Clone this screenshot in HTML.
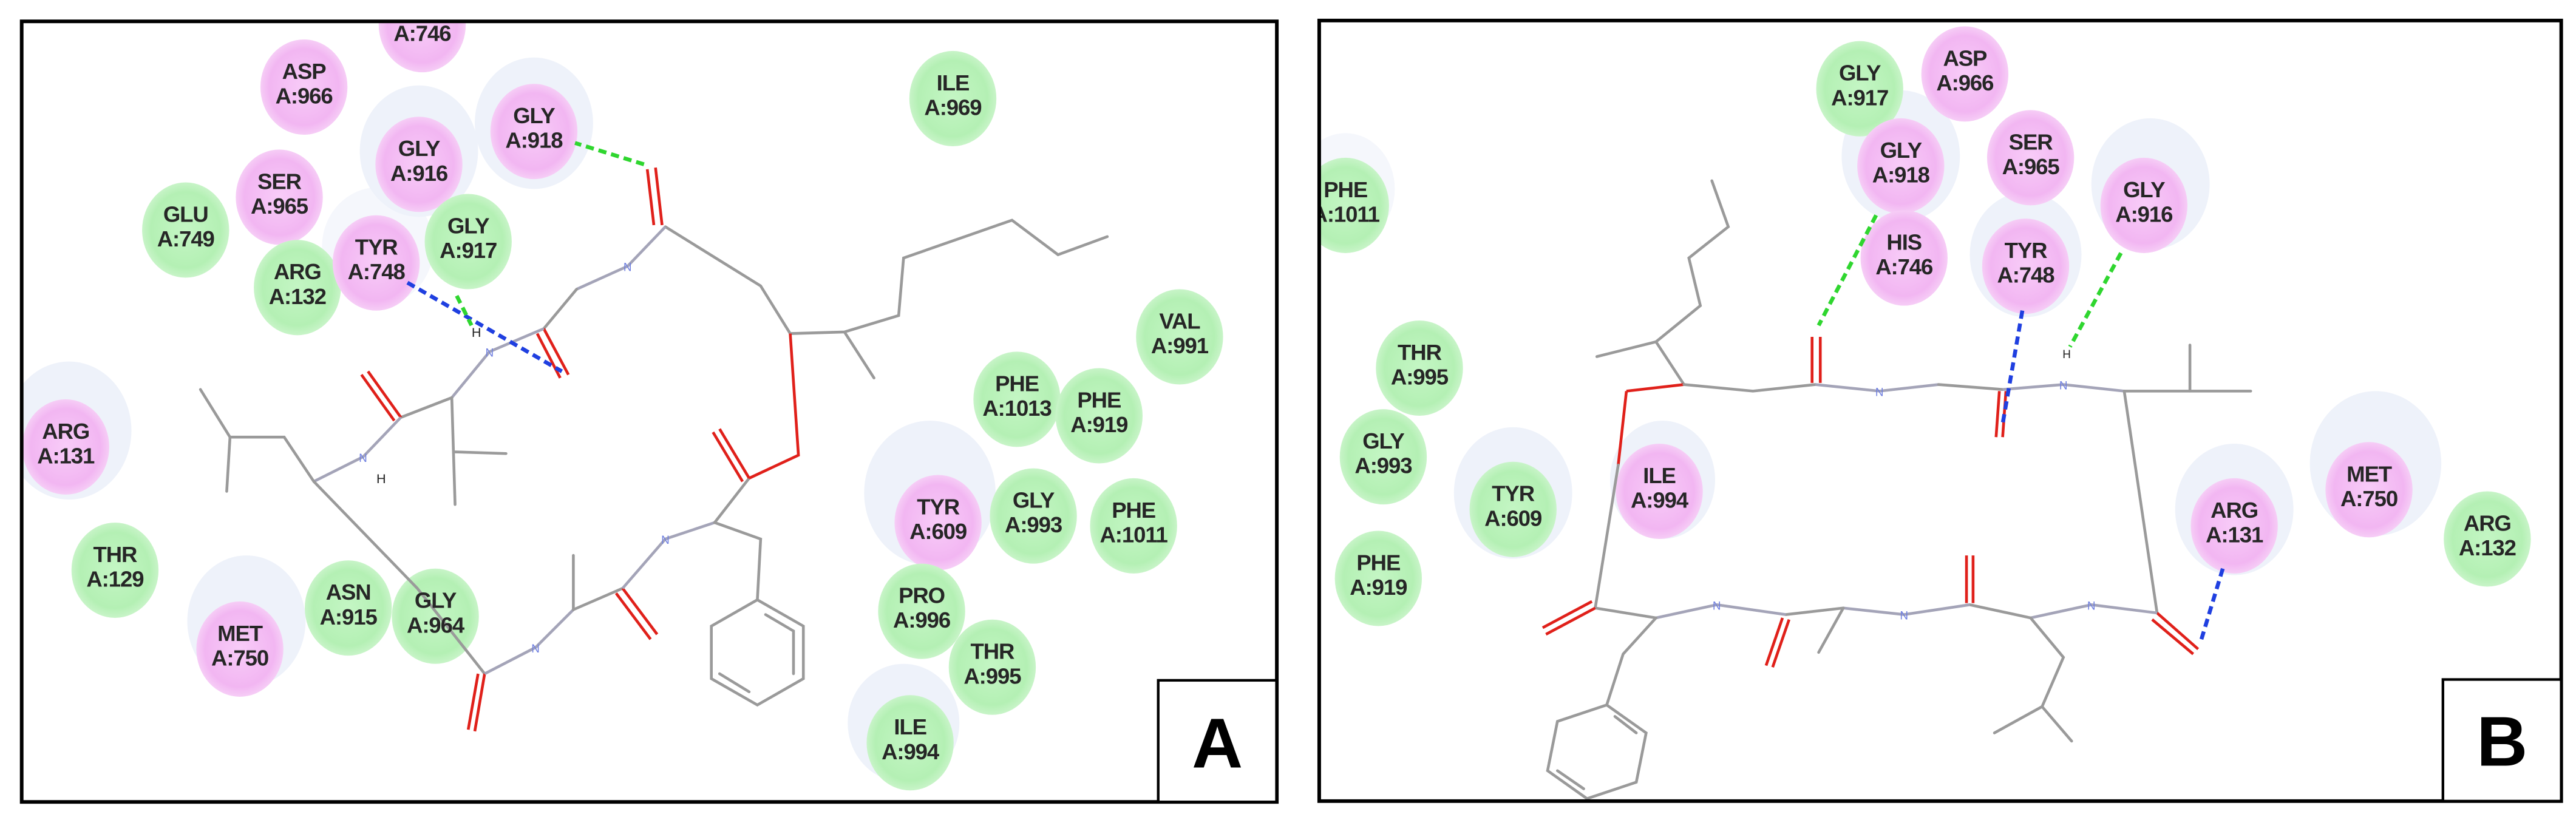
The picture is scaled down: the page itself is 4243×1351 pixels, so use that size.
<!DOCTYPE html>
<html><head><meta charset="utf-8"><style>
html,body{margin:0;padding:0;background:#fff;}
svg{display:block;}
text{font-family:"Liberation Sans",sans-serif;}
.lb{font-size:13.5px;font-weight:bold;fill:#262626;text-anchor:middle;letter-spacing:-0.4px;}
.b{stroke:#9a9a9a;stroke-width:1.7;fill:none;stroke-linecap:round;}
.r{stroke:#e0201a;stroke-width:1.7;fill:none;}
.n{stroke:#a4a4b8;stroke-width:1.7;fill:none;}
.nt{font-size:7px;fill:#7080e0;text-anchor:middle;}
.hg{stroke:#2fd62f;stroke-width:2.4;stroke-dasharray:5,3;fill:none;}
.hb{stroke:#1f3fe0;stroke-width:2.4;stroke-dasharray:5,3;fill:none;}
</style></head><body>
<svg width="4243" height="1351" viewBox="0 0 1568 499" preserveAspectRatio="none" xmlns="http://www.w3.org/2000/svg">
<defs>
<radialGradient id="g"><stop offset="0" stop-color="#c4f6c4"/><stop offset="0.8" stop-color="#b4f0b4"/><stop offset="1" stop-color="#c8f4c8"/></radialGradient>
<radialGradient id="p"><stop offset="0" stop-color="#f8ccf8"/><stop offset="0.8" stop-color="#f2b6f2"/><stop offset="1" stop-color="#f6cdf6"/></radialGradient>
<clipPath id="ca"><rect x="13" y="13" width="764" height="475"/></clipPath>
<clipPath id="cb"><rect x="803" y="13" width="756" height="475"/></clipPath>
</defs>
<rect width="1568" height="499" fill="#fff"/>

<!-- PANEL A -->
<g clip-path="url(#ca)">
<g fill="#eef2fa">
<ellipse cx="325" cy="75" rx="36" ry="40"/>
<ellipse cx="255" cy="92" rx="36" ry="40"/>
<ellipse cx="42" cy="262" rx="38" ry="42"/>
<ellipse cx="566" cy="300" rx="40" ry="44"/>
<ellipse cx="150" cy="378" rx="36" ry="40"/>
<ellipse cx="550" cy="440" rx="34" ry="36"/>
<ellipse cx="230" cy="150" rx="34" ry="36" opacity="0.6"/>
</g>
<g>
<ellipse cx="257" cy="15" rx="26.5" ry="29" fill="url(#p)"/>
<ellipse cx="185" cy="53" rx="26.5" ry="29" fill="url(#p)"/>
<ellipse cx="325" cy="80" rx="26.5" ry="29" fill="url(#p)"/>
<ellipse cx="255" cy="100" rx="26.5" ry="29" fill="url(#p)"/>
<ellipse cx="170" cy="120" rx="26.5" ry="29" fill="url(#p)"/>
<ellipse cx="113" cy="140" rx="26.5" ry="29" fill="url(#g)"/>
<ellipse cx="285" cy="147" rx="26.5" ry="29" fill="url(#g)"/>
<ellipse cx="181" cy="175" rx="26.5" ry="29" fill="url(#g)"/>
<ellipse cx="229" cy="160" rx="26.5" ry="29" fill="url(#p)"/>
<ellipse cx="580" cy="60" rx="26.5" ry="29" fill="url(#g)"/>
<ellipse cx="718" cy="205" rx="26.5" ry="29" fill="url(#g)"/>
<ellipse cx="619" cy="243" rx="26.5" ry="29" fill="url(#g)"/>
<ellipse cx="669" cy="253" rx="26.5" ry="29" fill="url(#g)"/>
<ellipse cx="40" cy="272" rx="26.5" ry="29" fill="url(#p)"/>
<ellipse cx="571" cy="318" rx="26.5" ry="29" fill="url(#p)"/>
<ellipse cx="629" cy="314" rx="26.5" ry="29" fill="url(#g)"/>
<ellipse cx="690" cy="320" rx="26.5" ry="29" fill="url(#g)"/>
<ellipse cx="70" cy="347" rx="26.5" ry="29" fill="url(#g)"/>
<ellipse cx="561" cy="372" rx="26.5" ry="29" fill="url(#g)"/>
<ellipse cx="212" cy="370" rx="26.5" ry="29" fill="url(#g)"/>
<ellipse cx="265" cy="375" rx="26.5" ry="29" fill="url(#g)"/>
<ellipse cx="146" cy="395" rx="26.5" ry="29" fill="url(#p)"/>
<ellipse cx="604" cy="406" rx="26.5" ry="29" fill="url(#g)"/>
<ellipse cx="554" cy="452" rx="26.5" ry="29" fill="url(#g)"/>
</g>
<polyline class="b" points="405,138 463,174 481,203 514,202 547,192 550,157 616,134 644,155 674,144"/>
<line class="b" x1="514" y1="202" x2="532" y2="230"/>
<line class="r" x1="399" y1="102" x2="403" y2="137"/><line class="r" x1="394" y1="103" x2="398" y2="137"/>
<polyline class="n" points="405,138 382,162 351,176"/>
<line class="b" x1="351" y1="176" x2="331" y2="200"/>
<line class="r" x1="331" y1="200" x2="346" y2="228"/><line class="r" x1="327" y1="203" x2="341" y2="230"/>
<polyline class="n" points="331,200 298,214 275,242"/>
<polyline class="b" points="275,242 244,254"/>
<line class="r" x1="244" y1="254" x2="224" y2="226"/><line class="r" x1="240" y1="256" x2="220" y2="228"/>
<polyline class="b" points="275,242 277,307"/><line class="b" x1="277" y1="275" x2="308" y2="276"/>
<polyline class="n" points="244,254 221,278 191,293"/>
<polyline class="b" points="191,293 173,266 140,266 122,237"/><line class="b" x1="140" y1="266" x2="138" y2="299"/>
<polyline class="b" points="191,293 254,358 295,410"/>
<line class="r" x1="295" y1="410" x2="289" y2="445"/><line class="r" x1="291" y1="410" x2="285" y2="444"/>
<polyline class="n" points="295,410 326,394 349,371"/>
<polyline class="b" points="349,371 379,358"/><line class="b" x1="349" y1="371" x2="349" y2="338"/>
<line class="r" x1="379" y1="358" x2="400" y2="386"/><line class="r" x1="375" y1="361" x2="396" y2="389"/>
<polyline class="n" points="379,358 405,328 435,318"/>
<polyline class="b" points="435,318 463,328 461,365"/>
<polygon class="b" points="461,365 489,381 489,413 461,429 433,413 433,381"/>
<polyline class="b" points="466,374 483,384 483,410"/>
<line class="b" x1="438" y1="410" x2="456" y2="421"/>
<line class="b" x1="435" y1="318" x2="456" y2="291"/>
<line class="r" x1="456" y1="291" x2="438" y2="261"/><line class="r" x1="452" y1="293" x2="434" y2="263"/>
<polyline class="r" points="456,291 486,277 481,203"/>
<text x="382" y="165" class="nt">N</text>
<text x="298" y="217" class="nt">N</text>
<text x="221" y="281" class="nt">N</text>
<text x="326" y="397" class="nt">N</text>
<text x="405" y="331" class="nt">N</text>
<text x="290" y="205" font-size="8" fill="#222" text-anchor="middle">H</text>
<text x="232" y="294" font-size="8" fill="#222" text-anchor="middle">H</text>
<line class="hg" x1="392" y1="100" x2="350" y2="87"/>
<line class="hb" x1="248" y1="172" x2="342" y2="226"/>
<line class="hg" x1="278" y1="180" x2="287" y2="198"/>
<g class="lb">
<text x="257" y="10">HIS</text><text x="257" y="25">A:746</text>
<text x="185" y="48">ASP</text><text x="185" y="63">A:966</text>
<text x="325" y="75">GLY</text><text x="325" y="90">A:918</text>
<text x="255" y="95">GLY</text><text x="255" y="110">A:916</text>
<text x="170" y="115">SER</text><text x="170" y="130">A:965</text>
<text x="113" y="135">GLU</text><text x="113" y="150">A:749</text>
<text x="285" y="142">GLY</text><text x="285" y="157">A:917</text>
<text x="181" y="170">ARG</text><text x="181" y="185">A:132</text>
<text x="229" y="155">TYR</text><text x="229" y="170">A:748</text>
<text x="580" y="55">ILE</text><text x="580" y="70">A:969</text>
<text x="718" y="200">VAL</text><text x="718" y="215">A:991</text>
<text x="619" y="238">PHE</text><text x="619" y="253">A:1013</text>
<text x="669" y="248">PHE</text><text x="669" y="263">A:919</text>
<text x="40" y="267">ARG</text><text x="40" y="282">A:131</text>
<text x="571" y="313">TYR</text><text x="571" y="328">A:609</text>
<text x="629" y="309">GLY</text><text x="629" y="324">A:993</text>
<text x="690" y="315">PHE</text><text x="690" y="330">A:1011</text>
<text x="70" y="342">THR</text><text x="70" y="357">A:129</text>
<text x="561" y="367">PRO</text><text x="561" y="382">A:996</text>
<text x="212" y="365">ASN</text><text x="212" y="380">A:915</text>
<text x="265" y="370">GLY</text><text x="265" y="385">A:964</text>
<text x="146" y="390">MET</text><text x="146" y="405">A:750</text>
<text x="604" y="401">THR</text><text x="604" y="416">A:995</text>
<text x="554" y="447">ILE</text><text x="554" y="462">A:994</text>
</g>
</g>
<rect x="13.2" y="13" width="764" height="475" fill="none" stroke="#000" stroke-width="2.2"/>
<rect x="705" y="414" width="72" height="74" fill="#fff" stroke="#000" stroke-width="1.6"/>
<text x="741" y="467" font-size="43" font-weight="bold" text-anchor="middle" fill="#000">A</text>

<!-- PANEL B -->
<g clip-path="url(#cb)">
<g fill="#eef2fa">
<ellipse cx="1157" cy="95" rx="36" ry="40"/>
<ellipse cx="1309" cy="112" rx="36" ry="40"/>
<ellipse cx="1233" cy="155" rx="34" ry="38"/>
<ellipse cx="921" cy="300" rx="36" ry="40"/>
<ellipse cx="1012" cy="292" rx="32" ry="36"/>
<ellipse cx="1360" cy="310" rx="36" ry="40"/>
<ellipse cx="1446" cy="282" rx="40" ry="44"/>
<ellipse cx="819" cy="115" rx="30" ry="34" opacity="0.6"/>
</g>
<g>
<ellipse cx="1132" cy="54" rx="26.5" ry="29" fill="url(#g)"/>
<ellipse cx="1196" cy="45" rx="26.5" ry="29" fill="url(#p)"/>
<ellipse cx="1157" cy="101" rx="26.5" ry="29" fill="url(#p)"/>
<ellipse cx="1236" cy="96" rx="26.5" ry="29" fill="url(#p)"/>
<ellipse cx="1305" cy="125" rx="26.5" ry="29" fill="url(#p)"/>
<ellipse cx="1159" cy="157" rx="26.5" ry="29" fill="url(#p)"/>
<ellipse cx="1233" cy="162" rx="26.5" ry="29" fill="url(#p)"/>
<ellipse cx="819" cy="125" rx="26.5" ry="29" fill="url(#g)"/>
<ellipse cx="864" cy="224" rx="26.5" ry="29" fill="url(#g)"/>
<ellipse cx="842" cy="278" rx="26.5" ry="29" fill="url(#g)"/>
<ellipse cx="921" cy="310" rx="26.5" ry="29" fill="url(#g)"/>
<ellipse cx="1010" cy="299" rx="26.5" ry="29" fill="url(#p)"/>
<ellipse cx="839" cy="352" rx="26.5" ry="29" fill="url(#g)"/>
<ellipse cx="1360" cy="320" rx="26.5" ry="29" fill="url(#p)"/>
<ellipse cx="1442" cy="298" rx="26.5" ry="29" fill="url(#p)"/>
<ellipse cx="1514" cy="328" rx="26.5" ry="29" fill="url(#g)"/>
</g>
<polyline class="b" points="1042,110 1052,138 1028,157 1035,186 1008,208 1025,234"/>
<line class="b" x1="1008" y1="208" x2="972" y2="217"/>
<line class="r" x1="1025" y1="234" x2="990" y2="238"/>
<line class="r" x1="990" y1="238" x2="985" y2="283"/>
<polyline class="b" points="1025,234 1067,238 1105,234"/>
<line class="r" x1="1103" y1="205" x2="1103" y2="233"/><line class="r" x1="1108" y1="205" x2="1108" y2="233"/>
<polyline class="n" points="1105,234 1144,238 1180,234"/>
<polyline class="b" points="1180,234 1219,237"/>
<line class="r" x1="1217" y1="238" x2="1215" y2="266"/><line class="r" x1="1221" y1="238" x2="1219" y2="266"/>
<polyline class="n" points="1219,237 1256,234 1293,238"/>
<polyline class="b" points="1293,238 1370,238"/><line class="b" x1="1333" y1="238" x2="1333" y2="210"/>
<polyline class="b" points="1293,238 1313,373"/>
<line class="r" x1="1313" y1="373" x2="1338" y2="395"/><line class="r" x1="1310" y1="377" x2="1335" y2="398"/>
<polyline class="n" points="1313,373 1273,368 1236,376"/>
<polyline class="b" points="1236,376 1199,368"/>
<line class="r" x1="1197" y1="338" x2="1197" y2="367"/><line class="r" x1="1201" y1="338" x2="1201" y2="367"/>
<polyline class="n" points="1199,368 1159,374 1122,370"/>
<polyline class="b" points="1122,370 1087,374"/><line class="b" x1="1122" y1="370" x2="1107" y2="397"/>
<line class="r" x1="1085" y1="376" x2="1075" y2="405"/><line class="r" x1="1089" y1="377" x2="1079" y2="406"/>
<polyline class="n" points="1087,374 1045,368 1008,376"/>
<polyline class="b" points="1008,376 971,370 985,283"/>
<line class="r" x1="971" y1="370" x2="941" y2="386"/><line class="r" x1="969" y1="366" x2="939" y2="382"/>
<polyline class="b" points="1236,376 1256,400 1243,430 1214,446"/><line class="b" x1="1243" y1="430" x2="1261" y2="451"/>
<polyline class="b" points="1008,376 988,398 978,429"/>
<polygon class="b" points="978,429 1002,446 996,476 966,486 942,469 948,439"/>
<line class="b" x1="983" y1="436" x2="996" y2="446"/>
<line class="b" x1="948" y1="469" x2="964" y2="480"/>
<text x="1144" y="241" class="nt">N</text>
<text x="1256" y="237" class="nt">N</text>
<text x="1273" y="371" class="nt">N</text>
<text x="1159" y="377" class="nt">N</text>
<text x="1045" y="371" class="nt">N</text>
<text x="1258" y="218" font-size="7" fill="#222" text-anchor="middle">H</text>
<line class="hg" x1="1142" y1="131" x2="1107" y2="198"/>
<line class="hb" x1="1231" y1="189" x2="1219" y2="258"/>
<line class="hg" x1="1291" y1="154" x2="1260" y2="211"/>
<line class="hb" x1="1353" y1="346" x2="1340" y2="389"/>
<g class="lb">
<text x="1132" y="49">GLY</text><text x="1132" y="64">A:917</text>
<text x="1196" y="40">ASP</text><text x="1196" y="55">A:966</text>
<text x="1157" y="96">GLY</text><text x="1157" y="111">A:918</text>
<text x="1236" y="91">SER</text><text x="1236" y="106">A:965</text>
<text x="1305" y="120">GLY</text><text x="1305" y="135">A:916</text>
<text x="1159" y="152">HIS</text><text x="1159" y="167">A:746</text>
<text x="1233" y="157">TYR</text><text x="1233" y="172">A:748</text>
<text x="819" y="120">PHE</text><text x="819" y="135">A:1011</text>
<text x="864" y="219">THR</text><text x="864" y="234">A:995</text>
<text x="842" y="273">GLY</text><text x="842" y="288">A:993</text>
<text x="921" y="305">TYR</text><text x="921" y="320">A:609</text>
<text x="1010" y="294">ILE</text><text x="1010" y="309">A:994</text>
<text x="839" y="347">PHE</text><text x="839" y="362">A:919</text>
<text x="1360" y="315">ARG</text><text x="1360" y="330">A:131</text>
<text x="1442" y="293">MET</text><text x="1442" y="308">A:750</text>
<text x="1514" y="323">ARG</text><text x="1514" y="338">A:132</text>
</g>
</g>
<rect x="803" y="12.5" width="756" height="475" fill="none" stroke="#000" stroke-width="2.2"/>
<rect x="1487" y="413.5" width="72" height="74" fill="#fff" stroke="#000" stroke-width="1.6"/>
<text x="1523" y="466" font-size="43" font-weight="bold" text-anchor="middle" fill="#000">B</text>
</svg>
</body></html>
